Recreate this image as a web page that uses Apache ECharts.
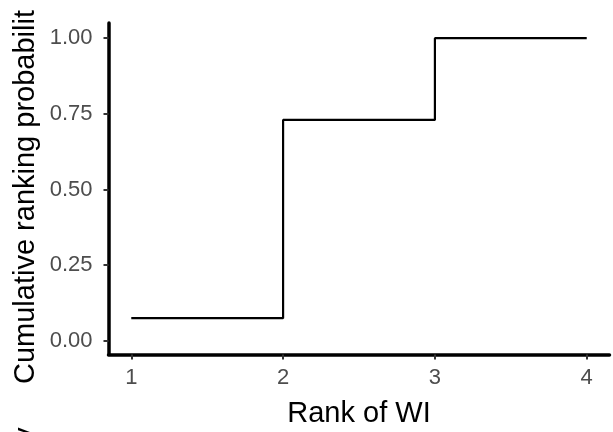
<!DOCTYPE html>
<html>
<head>
<meta charset="utf-8">
<script src="https://cdn.jsdelivr.net/npm/echarts@6/dist/echarts.min.js"></script>
<style>
html,body{margin:0;padding:0;background:#fff;}
#c{width:613px;height:432px;}
</style>
</head>
<body>
<div id="c"></div>
<script>
var ranks = [1, 2, 3, 4];
var cumProb = [0.075, 0.73, 1.0, 1.0];
var xTicks = [1, 2, 3, 4];
var yTicks = [0, 0.25, 0.5, 0.75, 1.0];
var xTitle = 'Rank of WI';
var yTitle = 'Cumulative ranking probabilit';
var yTitleTail = 'y';

var FONT = '"Liberation Sans", Arial, Helvetica, sans-serif';
var chart = echarts.init(document.getElementById('c'), null, {renderer: 'canvas'});
var pts = ranks.map(function (r, i) { return [r, cumProb[i]]; });

chart.setOption({
  animation: false,
  backgroundColor: '#ffffff',
  grid: {left: 108.5, right: 3.5, top: 23, bottom: 77.5, containLabel: false, outerBoundsMode: 'none'},
  xAxis: {
    type: 'value', min: 0.85, max: 4.15,
    name: xTitle, nameLocation: 'middle', nameGap: 45,
    nameTextStyle: {color: '#000', fontSize: 29, fontFamily: FONT},
    axisLine: {show: true, onZero: false, lineStyle: {color: '#000', width: 3.5}},
    axisTick: {show: true, customValues: xTicks, length: 5, lineStyle: {color: '#333', width: 2}},
    axisLabel: {show: true, customValues: xTicks, color: '#4d4d4d', fontSize: 22, fontFamily: FONT, margin: 12},
    splitLine: {show: false}
  },
  yAxis: {
    type: 'value', min: -0.045, max: 1.05,
    axisLine: {show: true, onZero: false, lineStyle: {color: '#000', width: 3.5}},
    axisTick: {show: true, customValues: yTicks, length: 5, lineStyle: {color: '#333', width: 2}},
    axisLabel: {show: true, customValues: yTicks, color: '#4d4d4d', fontSize: 22, fontFamily: FONT, margin: 16,
      formatter: function (v) { return Number(v).toFixed(2); }},
    splitLine: {show: false}
  },
  graphic: [{
    type: 'text', x: 26, y: 384, rotation: Math.PI / 2,
    style: {text: yTitle, fill: '#000', font: '29px ' + FONT, textAlign: 'left', textVerticalAlign: 'middle'}
  }, {
    type: 'text', x: 26, y: 442, rotation: Math.PI / 2,
    style: {text: yTitleTail, fill: '#000', font: '29px ' + FONT, textAlign: 'left', textVerticalAlign: 'middle'}
  }],
  series: [{
    type: 'line', step: 'end', data: pts,
    showSymbol: false, symbol: 'none',
    lineStyle: {color: '#000', width: 2.2},
    silent: true
  }]
});
</script>
</body>
</html>
